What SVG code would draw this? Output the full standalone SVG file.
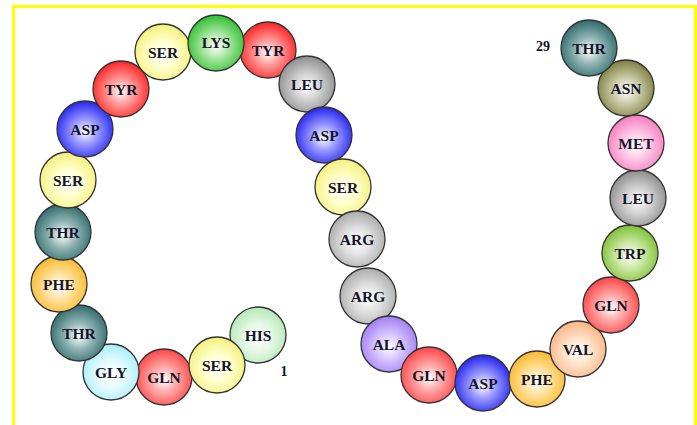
<svg xmlns="http://www.w3.org/2000/svg" width="697" height="425" viewBox="0 0 697 425">
<style>
.b{stroke:#333;stroke-width:1.3}
.t{font-family:"Liberation Serif","Times New Roman",serif;font-weight:bold;font-size:15.5px;fill:#14142a;text-anchor:middle}
.n{font-family:"Liberation Serif","Times New Roman",serif;font-weight:bold;font-size:14px;fill:#14142a;text-anchor:middle}
</style>
<defs>
<radialGradient id="gSER" cx="50%" cy="55%" r="55%"><stop offset="0" stop-color="#fff"/><stop offset="0.45" stop-color="#ffffcc"/><stop offset="1" stop-color="#f4f07a"/></radialGradient>
<radialGradient id="gLYS" cx="50%" cy="55%" r="55%"><stop offset="0" stop-color="#fff"/><stop offset="0.4" stop-color="#aee8a6"/><stop offset="1" stop-color="#2fc02f"/></radialGradient>
<radialGradient id="gTYR" cx="50%" cy="55%" r="55%"><stop offset="0" stop-color="#fff"/><stop offset="0.4" stop-color="#ff9c9c"/><stop offset="1" stop-color="#f22"/></radialGradient>
<radialGradient id="gLEU" cx="50%" cy="55%" r="55%"><stop offset="0" stop-color="#fff"/><stop offset="0.45" stop-color="#cfcfcf"/><stop offset="1" stop-color="#8c8c8c"/></radialGradient>
<radialGradient id="gASP" cx="50%" cy="55%" r="55%"><stop offset="0" stop-color="#fff"/><stop offset="0.4" stop-color="#9c9cff"/><stop offset="1" stop-color="#2424f0"/></radialGradient>
<radialGradient id="gTHR" cx="50%" cy="55%" r="55%"><stop offset="0" stop-color="#fff"/><stop offset="0.45" stop-color="#8fb2b2"/><stop offset="1" stop-color="#2e6b6b"/></radialGradient>
<radialGradient id="gPHE" cx="50%" cy="55%" r="55%"><stop offset="0" stop-color="#fff"/><stop offset="0.45" stop-color="#ffe09a"/><stop offset="1" stop-color="#fbb82a"/></radialGradient>
<radialGradient id="gGLY" cx="50%" cy="55%" r="55%"><stop offset="0" stop-color="#fff"/><stop offset="0.45" stop-color="#e4fbff"/><stop offset="1" stop-color="#a8eef8"/></radialGradient>
<radialGradient id="gGLN" cx="50%" cy="55%" r="55%"><stop offset="0" stop-color="#fff"/><stop offset="0.4" stop-color="#ffabab"/><stop offset="1" stop-color="#f44"/></radialGradient>
<radialGradient id="gHIS" cx="50%" cy="55%" r="55%"><stop offset="0" stop-color="#fff"/><stop offset="0.45" stop-color="#e6f8e6"/><stop offset="1" stop-color="#b4e8b4"/></radialGradient>
<radialGradient id="gARG" cx="50%" cy="55%" r="55%"><stop offset="0" stop-color="#fff"/><stop offset="0.45" stop-color="#e0e0e0"/><stop offset="1" stop-color="#aaa"/></radialGradient>
<radialGradient id="gALA" cx="50%" cy="55%" r="55%"><stop offset="0" stop-color="#fff"/><stop offset="0.45" stop-color="#d4c2ff"/><stop offset="1" stop-color="#a07cf4"/></radialGradient>
<radialGradient id="gVAL" cx="50%" cy="55%" r="55%"><stop offset="0" stop-color="#fff"/><stop offset="0.45" stop-color="#ffe2c8"/><stop offset="1" stop-color="#fbb484"/></radialGradient>
<radialGradient id="gTRP" cx="50%" cy="55%" r="55%"><stop offset="0" stop-color="#fff"/><stop offset="0.45" stop-color="#c8e6a0"/><stop offset="1" stop-color="#7cc032"/></radialGradient>
<radialGradient id="gMET" cx="50%" cy="55%" r="55%"><stop offset="0" stop-color="#fff"/><stop offset="0.45" stop-color="#ffc6e4"/><stop offset="1" stop-color="#f47cc0"/></radialGradient>
<radialGradient id="gASN" cx="50%" cy="55%" r="55%"><stop offset="0" stop-color="#fff"/><stop offset="0.45" stop-color="#c8c8a4"/><stop offset="1" stop-color="#7e7e3e"/></radialGradient>
</defs>
<rect width="697" height="425" fill="#fff"/>
<path d="M13.5,425 V6.5 H695.5 V425" fill="none" stroke="#ffff00" stroke-width="3"/>
<g id="connectors"/>
<g id="r1"><circle class="b" cx="258" cy="335" r="28" fill="url(#gHIS)"/><text class="t" x="258" y="341">HIS</text></g>
<g id="r3"><circle class="b" cx="164" cy="377" r="28" fill="url(#gGLN)"/><text class="t" x="164" y="383">GLN</text></g>
<g id="r2"><circle class="b" cx="217" cy="365" r="28" fill="url(#gSER)"/><text class="t" x="217" y="371">SER</text></g>
<g id="r4"><circle class="b" cx="111" cy="372" r="28" fill="url(#gGLY)"/><text class="t" x="111" y="378">GLY</text></g>
<g id="r5"><circle class="b" cx="79" cy="333" r="28" fill="url(#gTHR)"/><text class="t" x="79" y="339">THR</text></g>
<g id="r6"><circle class="b" cx="59" cy="284" r="28" fill="url(#gPHE)"/><text class="t" x="59" y="290">PHE</text></g>
<g id="r7"><circle class="b" cx="63" cy="232" r="28" fill="url(#gTHR)"/><text class="t" x="63" y="238">THR</text></g>
<g id="r8"><circle class="b" cx="68" cy="180" r="28" fill="url(#gSER)"/><text class="t" x="68" y="186">SER</text></g>
<g id="r9"><circle class="b" cx="85" cy="129" r="28" fill="url(#gASP)"/><text class="t" x="85" y="135">ASP</text></g>
<g id="r10"><circle class="b" cx="121" cy="89" r="28" fill="url(#gTYR)"/><text class="t" x="121" y="95">TYR</text></g>
<g id="r11"><circle class="b" cx="163" cy="52" r="28" fill="url(#gSER)"/><text class="t" x="163" y="58">SER</text></g>
<g id="r13"><circle class="b" cx="268" cy="50" r="28" fill="url(#gTYR)"/><text class="t" x="268" y="56">TYR</text></g>
<g id="r12"><circle class="b" cx="216" cy="43" r="28" fill="url(#gLYS)"/><text class="t" x="216" y="48">LYS</text></g>
<g id="r14"><circle class="b" cx="307" cy="84" r="28" fill="url(#gLEU)"/><text class="t" x="307" y="90">LEU</text></g>
<g id="r15"><circle class="b" cx="324" cy="135" r="28" fill="url(#gASP)"/><text class="t" x="324" y="141">ASP</text></g>
<g id="r16"><circle class="b" cx="343" cy="187" r="28" fill="url(#gSER)"/><text class="t" x="343" y="193">SER</text></g>
<g id="r17"><circle class="b" cx="357" cy="239" r="28" fill="url(#gARG)"/><text class="t" x="357" y="245">ARG</text></g>
<g id="r18"><circle class="b" cx="368" cy="296" r="28" fill="url(#gARG)"/><text class="t" x="368" y="302">ARG</text></g>
<g id="r19"><circle class="b" cx="389" cy="344" r="28" fill="url(#gALA)"/><text class="t" x="389" y="350">ALA</text></g>
<g id="r20"><circle class="b" cx="429" cy="375" r="28" fill="url(#gGLN)"/><text class="t" x="429" y="381">GLN</text></g>
<g id="r21"><circle class="b" cx="483" cy="383" r="28" fill="url(#gASP)"/><text class="t" x="483" y="389">ASP</text></g>
<g id="r22"><circle class="b" cx="537" cy="379" r="28" fill="url(#gPHE)"/><text class="t" x="537" y="385">PHE</text></g>
<g id="r23"><circle class="b" cx="578" cy="349" r="28" fill="url(#gVAL)"/><text class="t" x="578" y="355">VAL</text></g>
<g id="r24"><circle class="b" cx="611" cy="305" r="28" fill="url(#gGLN)"/><text class="t" x="611" y="311">GLN</text></g>
<g id="r25"><circle class="b" cx="630" cy="253" r="28" fill="url(#gTRP)"/><text class="t" x="630" y="259">TRP</text></g>
<g id="r26"><circle class="b" cx="638" cy="198" r="28" fill="url(#gLEU)"/><text class="t" x="638" y="204">LEU</text></g>
<g id="r27"><circle class="b" cx="636" cy="143" r="28" fill="url(#gMET)"/><text class="t" x="636" y="149">MET</text></g>
<g id="r28"><circle class="b" cx="626" cy="88" r="28" fill="url(#gASN)"/><text class="t" x="626" y="94">ASN</text></g>
<g id="r29"><circle class="b" cx="589" cy="48" r="28" fill="url(#gTHR)"/><text class="t" x="589" y="54">THR</text></g>
<text class="n" x="284" y="376">1</text>
<text class="n" x="543" y="51">29</text>
</svg>
